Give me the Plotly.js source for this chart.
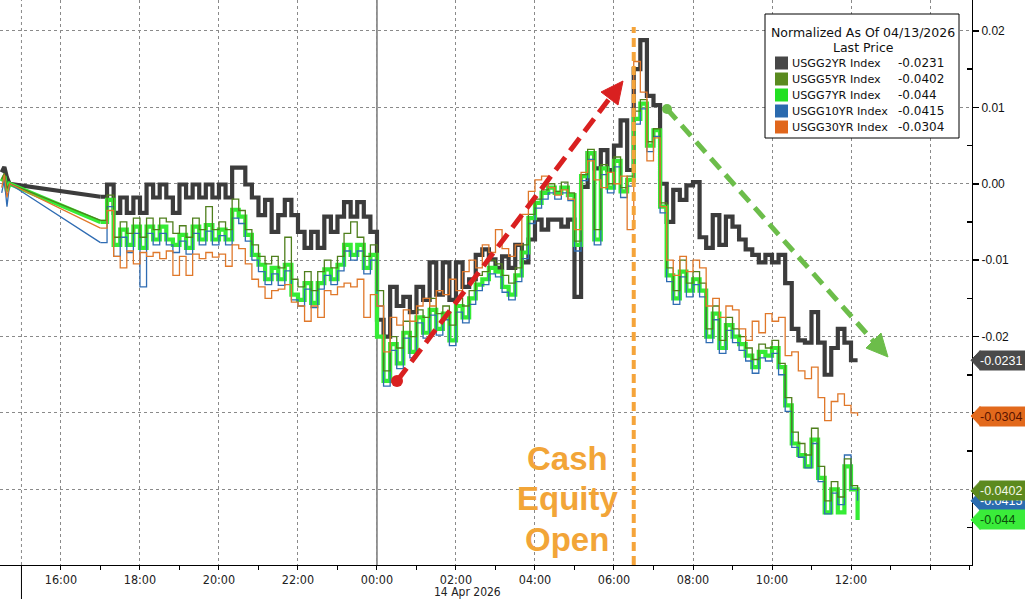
<!DOCTYPE html>
<html>
<head>
<meta charset="utf-8">
<script src="https://cdn.plot.ly/plotly-3.0.1.min.js"></script>
<style>
html,body{margin:0;padding:0;background:#fff;}
#chart{width:1025px;height:599px;}
</style>
</head>
<body>
<div id="chart"></div>
<script>
// ---------------- DATA ----------------
const seriesNames = ['USGG2YR Index','USGG5YR Index','USGG7YR Index','USGG10YR Index','USGG30YR Index'];
const lastPrices  = ['-0.0231','-0.0402','-0.044','-0.0415','-0.0304'];

// 13 Apr afternoon prints before the gap
const preTimes = ['2026-04-13 14:30','2026-04-13 14:34','2026-04-13 14:38','2026-04-13 14:42'];
const usgg2yrPre  = [0.0015, 0.0022, 0.0008, 0];
const usgg5yrPre  = [0.0006, 0.0014, -0.0006, 0];
const usgg7yrPre  = [0.0003, 0.0010, -0.0010, 0];
const usgg10yrPre = [-0.0012, 0.0005, -0.0030, 0];
const usgg30yrPre = [-0.0005, 0.0012, -0.0018, 0];

// session from 13 Apr 17:00 every 10 minutes to 14 Apr 12:10
const sessionStart = '2026-04-13 17:00';
const sessionStepMinutes = 10;

const usgg2yr = [
 -0.0017,-0.0001,-0.0038,-0.0018,-0.0038,-0.0018,-0.0038,-0.0001,-0.0018,-0.0001,-0.0018,-0.0038,
 -0.0001,-0.0018,-0.0001,-0.0018,-0.0001,-0.0018,-0.0001,-0.0018,0.0021,0.0021,-0.0001,-0.0018,
 -0.0041,-0.0021,-0.0063,-0.0041,-0.0021,-0.0041,-0.0063,-0.0084,-0.0063,-0.0084,-0.0043,-0.0063,
 -0.0043,-0.0024,-0.0043,-0.0024,-0.0043,-0.0063,-0.0178,-0.0200,-0.0135,-0.0160,-0.0148,-0.0168,
 -0.0135,-0.0152,-0.0103,-0.0145,-0.0103,-0.0152,-0.0103,-0.0135,-0.0125,-0.0093,-0.0086,-0.0099,
 -0.0110,-0.0095,-0.0110,-0.0080,-0.0103,-0.0073,-0.0047,-0.0060,-0.0047,-0.0047,-0.0056,-0.0047,
 -0.0148,-0.0004,0.0040,0.0020,0.0044,0.0018,0.0050,0.0083,0.0018,0.0150,0.0188,0.0115,
 0.0103,0.0000,-0.0050,-0.0008,-0.0021,-0.0002,0.0002,-0.0070,-0.0084,-0.0041,-0.0080,-0.0043,
 -0.0056,-0.0073,-0.0086,-0.0093,-0.0103,-0.0093,-0.0103,-0.0093,-0.0130,-0.0190,-0.0205,-0.0208,
 -0.0168,-0.0208,-0.0250,-0.0215,-0.0190,-0.0208,-0.0231,-0.0231
];
const usgg5yr = [
 -0.0048,-0.0015,-0.0070,-0.0050,-0.0065,-0.0045,-0.0070,-0.0045,-0.0060,-0.0045,-0.0050,-0.0065,
 -0.0055,-0.0070,-0.0045,-0.0060,-0.0030,-0.0060,-0.0050,-0.0060,-0.0020,-0.0035,-0.0060,-0.0080,
 -0.0095,-0.0105,-0.0095,-0.0110,-0.0070,-0.0125,-0.0135,-0.0115,-0.0140,-0.0115,-0.0100,-0.0110,
 -0.0095,-0.0065,-0.0050,-0.0070,-0.0095,-0.0080,-0.0140,-0.0245,-0.0200,-0.0215,-0.0180,-0.0200,
 -0.0165,-0.0175,-0.0150,-0.0170,-0.0160,-0.0185,-0.0150,-0.0160,-0.0140,-0.0120,-0.0115,-0.0100,
 -0.0105,-0.0120,-0.0130,-0.0110,-0.0080,-0.0040,-0.0020,-0.0008,0.0000,-0.0010,0.0002,-0.0012,
 -0.0075,0.0012,0.0045,-0.0060,0.0025,0.0000,0.0035,-0.0005,0.0010,0.0095,0.0110,0.0055,
 0.0072,-0.0025,-0.0110,-0.0140,-0.0100,-0.0130,-0.0115,-0.0130,-0.0190,-0.0160,-0.0205,-0.0175,
 -0.0190,-0.0200,-0.0215,-0.0230,-0.0210,-0.0215,-0.0205,-0.0235,-0.0280,-0.0325,-0.0340,-0.0355,
 -0.0320,-0.0370,-0.0415,-0.0390,-0.0410,-0.0360,-0.0395,-0.0402
];
const usgg7yr = [
 -0.0050,-0.0021,-0.0080,-0.0060,-0.0080,-0.0056,-0.0084,-0.0056,-0.0073,-0.0056,-0.0073,-0.0080,
 -0.0067,-0.0084,-0.0056,-0.0073,-0.0054,-0.0073,-0.0060,-0.0073,-0.0034,-0.0043,-0.0067,-0.0093,
 -0.0106,-0.0125,-0.0110,-0.0125,-0.0106,-0.0145,-0.0152,-0.0130,-0.0156,-0.0130,-0.0112,-0.0125,
 -0.0106,-0.0080,-0.0093,-0.0080,-0.0110,-0.0093,-0.0200,-0.0258,-0.0210,-0.0235,-0.0195,-0.0220,
 -0.0175,-0.0195,-0.0165,-0.0190,-0.0170,-0.0205,-0.0160,-0.0175,-0.0150,-0.0132,-0.0125,-0.0110,
 -0.0115,-0.0135,-0.0145,-0.0120,-0.0090,-0.0045,-0.0025,-0.0012,-0.0005,-0.0012,-0.0005,-0.0015,
 -0.0080,0.0010,0.0040,-0.0073,0.0020,-0.0005,0.0030,-0.0010,0.0005,0.0085,0.0105,0.0050,
 0.0070,-0.0030,-0.0120,-0.0150,-0.0115,-0.0140,-0.0125,-0.0140,-0.0200,-0.0170,-0.0215,-0.0185,
 -0.0200,-0.0210,-0.0225,-0.0240,-0.0220,-0.0225,-0.0215,-0.0240,-0.0290,-0.0340,-0.0355,-0.0370,
 -0.0335,-0.0385,-0.0430,-0.0400,-0.0430,-0.0370,-0.0400,-0.0440
];
const usgg10yr = [
 -0.0077,-0.0030,-0.0095,-0.0070,-0.0090,-0.0065,-0.0135,-0.0065,-0.0080,-0.0065,-0.0080,-0.0090,
 -0.0075,-0.0092,-0.0065,-0.0080,-0.0062,-0.0080,-0.0068,-0.0080,-0.0045,-0.0052,-0.0075,-0.0100,
 -0.0115,-0.0132,-0.0118,-0.0133,-0.0114,-0.0152,-0.0160,-0.0138,-0.0162,-0.0138,-0.0120,-0.0132,
 -0.0114,-0.0088,-0.0100,-0.0088,-0.0118,-0.0100,-0.0160,-0.0265,-0.0218,-0.0242,-0.0202,-0.0228,
 -0.0182,-0.0202,-0.0172,-0.0198,-0.0178,-0.0212,-0.0168,-0.0182,-0.0158,-0.0140,-0.0132,-0.0118,
 -0.0122,-0.0142,-0.0152,-0.0128,-0.0098,-0.0052,-0.0032,-0.0020,-0.0012,-0.0020,-0.0012,-0.0022,
 -0.0088,0.0004,0.0032,-0.0080,0.0012,-0.0012,0.0022,-0.0018,-0.0003,0.0078,0.0098,0.0042,
 0.0062,-0.0038,-0.0128,-0.0158,-0.0122,-0.0148,-0.0132,-0.0148,-0.0208,-0.0178,-0.0222,-0.0192,
 -0.0208,-0.0218,-0.0232,-0.0248,-0.0228,-0.0232,-0.0222,-0.0250,-0.0298,-0.0345,-0.0358,-0.0372,
 -0.0340,-0.0390,-0.0432,-0.0405,-0.0420,-0.0355,-0.0400,-0.0415
];
const usgg30yr = [
 -0.0058,-0.0035,-0.0095,-0.0110,-0.0088,-0.0105,-0.0090,-0.0095,-0.0090,-0.0098,-0.0088,-0.0120,
 -0.0095,-0.0120,-0.0092,-0.0098,-0.0090,-0.0096,-0.0092,-0.0108,-0.0080,-0.0085,-0.0105,-0.0125,
 -0.0135,-0.0150,-0.0140,-0.0138,-0.0132,-0.0155,-0.0160,-0.0180,-0.0160,-0.0175,-0.0140,-0.0145,
 -0.0135,-0.0130,-0.0135,-0.0125,-0.0175,-0.0145,-0.0160,-0.0220,-0.0175,-0.0185,-0.0165,-0.0180,
 -0.0160,-0.0150,-0.0160,-0.0140,-0.0145,-0.0125,-0.0140,-0.0115,-0.0100,-0.0110,-0.0080,-0.0090,
 -0.0060,-0.0085,-0.0095,-0.0080,-0.0040,-0.0010,0.0005,0.0010,-0.0005,-0.0015,-0.0008,-0.0020,
 -0.0060,0.0015,0.0030,0.0005,-0.0005,0.0015,0.0000,0.0010,-0.0060,0.0160,0.0120,0.0030,
 0.0060,-0.0030,-0.0100,-0.0120,-0.0095,-0.0115,-0.0100,-0.0110,-0.0160,-0.0150,-0.0175,-0.0160,
 -0.0165,-0.0190,-0.0205,-0.0180,-0.0195,-0.0170,-0.0180,-0.0175,-0.0225,-0.0220,-0.0245,-0.0255,
 -0.0240,-0.0280,-0.0310,-0.0285,-0.0275,-0.0290,-0.0300,-0.0304
];

const yTickVals = [0.02, 0.01, 0, -0.01, -0.02, -0.03, -0.04, -0.05];
const yTickText = ['0.02','0.01','0.00','-0.01','-0.02','','',''];
const yMinorVals = [0.015, 0.005, -0.005, -0.015, -0.025, -0.035, -0.045];
const xTickVals = ['2026-04-13 16:00','2026-04-13 18:00','2026-04-13 20:00','2026-04-13 22:00','2026-04-14 00:00',
  '2026-04-14 02:00','2026-04-14 04:00','2026-04-14 06:00','2026-04-14 08:00','2026-04-14 10:00','2026-04-14 12:00','2026-04-14 14:00'];
const xTickText = ['16:00','18:00','20:00','22:00','00:00','02:00','04:00','06:00','08:00','10:00','12:00',''];

// ---------------- BUILD ----------------
function pad(n){ return String(n).padStart(2,'0'); }
function fmt(ms){
  const d = new Date(ms);
  return d.getUTCFullYear()+'-'+pad(d.getUTCMonth()+1)+'-'+pad(d.getUTCDate())+' '+pad(d.getUTCHours())+':'+pad(d.getUTCMinutes());
}
const startMs = Date.parse(sessionStart.replace(' ','T')+':00Z');
const sessionTimes = usgg2yr.map((_, k) => fmt(startMs + k*sessionStepMinutes*60000));

const series = [
  {name: seriesNames[0], pre: usgg2yrPre,  vals: usgg2yr,  line:'#3c3c3c', width:4.2, legend:'#474747', tagBg:'#4a4a4a', tagFg:'#ffffff'},
  {name: seriesNames[1], pre: usgg5yrPre,  vals: usgg5yr,  line:'#4f7f1c', width:1.3, legend:'#5a8a1f', tagBg:'#5c8a1e', tagFg:'#f2f8e6'},
  {name: seriesNames[2], pre: usgg7yrPre,  vals: usgg7yr,  line:'#35ec35', width:4.2, legend:'#22e022', tagBg:'#3aec3a', tagFg:'#0b4d0b'},
  {name: seriesNames[3], pre: usgg10yrPre, vals: usgg10yr, line:'#2f6cb3', width:1.3, legend:'#2a6aae', tagBg:'#2b6cb0', tagFg:'#ffffff'},
  {name: seriesNames[4], pre: usgg30yrPre, vals: usgg30yr, line:'#e0782a', width:1.3, legend:'#e0661c', tagBg:'#e2691c', tagFg:'#5a1400'}
];
const drawOrder = [0, 2, 3, 1, 4];

const traces = [];
drawOrder.forEach(i => {
  const s = series[i];
  traces.push({
    type:'scatter', mode:'lines', name:s.name, showlegend:false, hoverinfo:'skip',
    x: preTimes.concat([sessionTimes[0]]), y: s.pre.concat([s.vals[0]]),
    line:{color:s.line, width:s.width, shape:'linear'}
  });
  traces.push({
    type:'scatter', mode:'lines', name:s.name, showlegend:false, hoverinfo:'skip',
    x: sessionTimes, y: s.vals,
    line:{color:s.line, width:s.width, shape:'hv'}
  });
});

// pixel -> paper helpers (plot area: x 0..972, y 0..565)
const PW = 972, PH = 565;
const X = px => px / PW;
const Y = py => (PH - py) / PH;

const shapes = [];
const annotations = [];

// extra gridline at 15:00 and its tick below the axis
shapes.push({type:'line', xref:'x', yref:'paper', x0:'2026-04-13 15:00', x1:'2026-04-13 15:00', y0:0, y1:1,
  line:{color:'#8a8a8a', width:1, dash:'dot'}, layer:'below'});
shapes.push({type:'line', xref:'x', yref:'paper', x0:'2026-04-13 15:00', x1:'2026-04-13 15:00', y0:Y(599), y1:0,
  line:{color:'#000', width:1}, layer:'above'});
// day separator
shapes.push({type:'line', xref:'x', yref:'paper', x0:'2026-04-14 00:00', x1:'2026-04-14 00:00', y0:0, y1:1,
  line:{color:'#333', width:1}, layer:'below'});
// cash equity open line
shapes.push({type:'line', xref:'x', yref:'paper', x0:'2026-04-14 06:30', x1:'2026-04-14 06:30', y0:0, y1:Y(27),
  line:{color:'#f5a43a', width:4, dash:'9px,5px'}, layer:'above'});

// dashed arrows (pixel geometry of the decoration)
function arrow(start, shaftEnd, head, color, dash, r){
  shapes.push({type:'line', xref:'paper', yref:'paper', x0:X(start[0]), y0:Y(start[1]), x1:X(shaftEnd[0]), y1:Y(shaftEnd[1]),
    line:{color:color, width:5, dash:dash}, layer:'above'});
  const p = 'M '+head.map(q => X(q[0])+','+Y(q[1])).join(' L ')+' Z';
  shapes.push({type:'path', xref:'paper', yref:'paper', path:p, fillcolor:color, line:{color:color, width:1}, layer:'above'});
  shapes.push({type:'circle', xref:'paper', yref:'paper', x0:X(start[0]-r), x1:X(start[0]+r), y0:Y(start[1]+r), y1:Y(start[1]-r),
    fillcolor:color, line:{color:color, width:0}, layer:'above'});
}
arrow([397,381],[612,95],[[623,81],[618,105],[601,92]], '#d92020', '16px,8px', 6);
arrow([667,109],[875,343],[[888,357],[866,348],[881,333]], '#6cbd4a', '14px,8px', 5);

// right-edge value tags (pointer as shape, body as annotation so later tags cover earlier ones)
[3,1,2,4,0].forEach(i => {
  const s = series[i];
  const v = s.vals[s.vals.length-1];
  shapes.push({type:'path', xref:'paper', yref:'y', xsizemode:'pixel', ysizemode:'pixel', xanchor:1, yanchor:v,
    path:'M -1 0 L 8 9.5 L 8 -9.5 Z', fillcolor:s.tagBg, line:{color:s.tagBg, width:1}, layer:'above'});
  annotations.push({xref:'paper', yref:'y', x:1, y:v, xanchor:'left', yanchor:'middle', xshift:7, showarrow:false,
    width:46, height:19, align:'left', valign:'middle', bgcolor:s.tagBg, borderpad:0,
    text:lastPrices[i], font:{family:'Liberation Sans, Arial, sans-serif', size:12.5, color:s.tagFg}});
});

// legend box
shapes.push({type:'rect', xref:'paper', yref:'paper', x0:X(765), x1:X(959), y0:Y(138), y1:Y(14),
  fillcolor:'#ffffff', line:{color:'#000', width:1}, layer:'above'});
const legFont = 'DejaVu Sans, Verdana, sans-serif';
annotations.push({xref:'paper', yref:'paper', x:X(863), y:Y(32), xanchor:'center', yanchor:'middle', showarrow:false,
  text:'Normalized As Of 04/13/2026', font:{family:legFont, size:12.5, color:'#111'}});
annotations.push({xref:'paper', yref:'paper', x:X(863), y:Y(47), xanchor:'center', yanchor:'middle', showarrow:false,
  text:'Last Price', font:{family:legFont, size:12.5, color:'#111'}});
series.forEach((s, i) => {
  const cy = 63 + i*16;
  shapes.push({type:'rect', xref:'paper', yref:'paper', x0:X(775), x1:X(788), y0:Y(cy+6.5), y1:Y(cy-6.5),
    fillcolor:s.legend, line:{width:0}, layer:'above'});
  annotations.push({xref:'paper', yref:'paper', x:X(790), y:Y(cy), xanchor:'left', yanchor:'middle', showarrow:false,
    text:s.name, font:{family:legFont, size:11.2, color:'#111'}});
  annotations.push({xref:'paper', yref:'paper', x:X(896), y:Y(cy), xanchor:'left', yanchor:'middle', showarrow:false,
    text:lastPrices[i], font:{family:legFont, size:12, color:'#111'}});
});

// "Cash Equity Open"
['Cash','Equity','Open'].forEach((t, k) => {
  annotations.push({xref:'paper', yref:'paper', x:X(567), y:Y(458 + k*40.5), xanchor:'center', yanchor:'middle', showarrow:false,
    text:'<b>'+t+'</b>', font:{family:'Liberation Sans, Arial, sans-serif', size:33, color:'#f2a538'}});
});

// date label
annotations.push({xref:'paper', yref:'paper', x:X(467), y:Y(592), xanchor:'center', yanchor:'middle', showarrow:false,
  text:'14 Apr 2026', font:{family:'Liberation Sans Narrow, DejaVu Sans Condensed, Arial Narrow, sans-serif', size:12, color:'#222'}});

const layout = {
  width:1025, height:599,
  margin:{l:0, r:53, t:0, b:34, pad:0, autoexpand:false},
  paper_bgcolor:'#ffffff', plot_bgcolor:'#ffffff',
  showlegend:false,
  xaxis:{
    type:'date', range:['2026-04-13 14:27:24','2026-04-14 15:03:47'],
    tickmode:'array', tickvals:xTickVals, ticktext:xTickText,
    ticks:'outside', ticklen:3, tickcolor:'#000', tickwidth:1,
    showline:true, linecolor:'#000', linewidth:1, mirror:false,
    showgrid:true, gridcolor:'#8a8a8a', griddash:'dot', gridwidth:1, zeroline:false,
    tickfont:{family:'Liberation Sans Narrow, DejaVu Sans Condensed, Arial Narrow, sans-serif', size:12.5, color:'#222'},
    minor:{dtick:3600000, tick0:'2026-04-14 00:00', ticks:'outside', ticklen:4, tickcolor:'#000', showgrid:false},
    fixedrange:true
  },
  yaxis:{
    side:'right', range:[-0.0499, 0.02405],
    tickmode:'array', tickvals:yTickVals, ticktext:yTickText,
    ticks:'outside', ticklen:6, tickwidth:1.5, tickcolor:'#000',
    showline:true, linecolor:'#000', linewidth:1,
    showgrid:true, gridcolor:'#8a8a8a', griddash:'dot', gridwidth:1, zeroline:false,
    tickfont:{family:'Liberation Sans, Arial, sans-serif', size:12, color:'#111'},
    minor:{tickmode:'array', tickvals:yMinorVals, ticks:'inside', ticklen:5, tickcolor:'#000', showgrid:false},
    fixedrange:true
  },
  shapes:shapes,
  annotations:annotations
};

Plotly.newPlot('chart', traces, layout, {staticPlot:true, displayModeBar:false});
</script>
</body>
</html>
